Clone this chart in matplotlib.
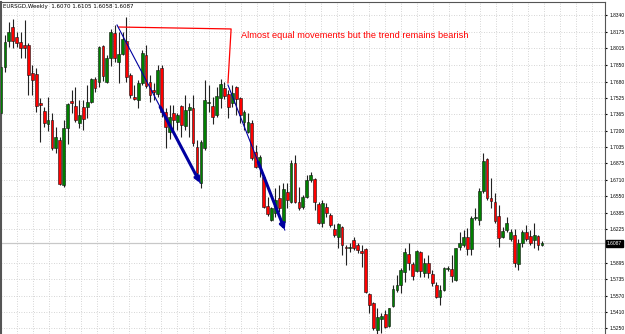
import numpy as np
import matplotlib
matplotlib.use("Agg")
import matplotlib.pyplot as plt

# weekly EURSGD candles
opens = [1.7373, 1.7827, 1.8083, 1.8221, 1.8123, 1.8073, 1.8044, 1.8044, 1.7768, 1.7758,
         1.7471, 1.7392, 1.7264, 1.7304, 1.7027, 1.7106, 1.6662, 1.7225, 1.7491, 1.7442,
         1.7274, 1.7432, 1.7432, 1.7481, 1.7708, 1.7679, 1.8034, 1.7679, 1.7916, 1.8162,
         1.7876, 1.7955, 1.8083, 1.7748, 1.7531, 1.7501, 1.7669, 1.7945, 1.7679, 1.7600,
         1.7560, 1.7817, 1.7383, 1.7185, 1.7373, 1.7284, 1.7442, 1.7244, 1.7402, 1.7422,
         1.7037, 1.6682, 1.7027, 1.7471, 1.7442, 1.7353, 1.7521, 1.7619, 1.7560, 1.7471,
         1.7629, 1.7521, 1.7284, 1.7185, 1.7274, 1.6988, 1.6840, 1.6741, 1.6455, 1.6317,
         1.6386, 1.6534, 1.6297, 1.6593, 1.6494, 1.6879, 1.6494, 1.6445, 1.6544, 1.6711,
         1.6721, 1.6475, 1.6287, 1.6445, 1.6366, 1.6228, 1.6149, 1.6248, 1.6050, 1.6040,
         1.6119, 1.6070, 1.6011, 1.6030, 1.5586, 1.5497, 1.5231, 1.5339, 1.5389, 1.5270,
         1.5468, 1.5626, 1.5675, 1.5804, 1.5981, 1.5882, 1.5814, 1.6001, 1.5794, 1.5892,
         1.5784, 1.5675, 1.5557, 1.5626, 1.5833, 1.5833, 1.5724, 1.6050, 1.6070, 1.6149,
         1.6030, 1.6336, 1.6317, 1.6603, 1.6919, 1.6534, 1.6494, 1.6356, 1.6149, 1.6218,
         1.6129, 1.6169, 1.5882, 1.6090, 1.6198, 1.6159, 1.6119, 1.6159, 1.6070]
highs = [1.7846, 1.8143, 1.8271, 1.8300, 1.8172, 1.8172, 1.8291, 1.8064, 1.7846, 1.7817,
         1.7521, 1.7432, 1.7531, 1.7373, 1.7235, 1.7136, 1.7304, 1.7471, 1.7600, 1.7629,
         1.7501, 1.7501, 1.7649, 1.7718, 1.7728, 1.8034, 1.8044, 1.7945, 1.8202, 1.8241,
         1.8172, 1.8172, 1.8320, 1.7768, 1.7649, 1.7698, 1.7995, 1.8044, 1.7748, 1.7669,
         1.7846, 1.7846, 1.7422, 1.7452, 1.7452, 1.7373, 1.7452, 1.7550, 1.7471, 1.7550,
         1.7106, 1.7106, 1.7698, 1.7649, 1.7531, 1.7629, 1.7708, 1.7679, 1.7600, 1.7649,
         1.7639, 1.7531, 1.7402, 1.7373, 1.7304, 1.7057, 1.6958, 1.6761, 1.6544, 1.6445,
         1.6632, 1.6662, 1.6682, 1.6682, 1.6909, 1.6958, 1.6642, 1.6563, 1.6761, 1.6790,
         1.6731, 1.6494, 1.6514, 1.6484, 1.6386, 1.6277, 1.6287, 1.6257, 1.6070, 1.6090,
         1.6149, 1.6090, 1.6070, 1.6040, 1.5596, 1.5507, 1.5448, 1.5399, 1.5428, 1.5448,
         1.5675, 1.5774, 1.5843, 1.6040, 1.6090, 1.5902, 1.6020, 1.6010, 1.5941, 1.5971,
         1.5823, 1.5705, 1.5675, 1.5853, 1.5863, 1.5971, 1.6040, 1.6198, 1.6218, 1.6238,
         1.6356, 1.6435, 1.6632, 1.6978, 1.6929, 1.6731, 1.6583, 1.6465, 1.6248, 1.6346,
         1.6228, 1.6228, 1.6129, 1.6218, 1.6267, 1.6218, 1.6287, 1.6169, 1.6105]
lows = [1.7353, 1.7777, 1.8024, 1.8014, 1.8024, 1.7916, 1.7916, 1.7550, 1.7550, 1.7383,
        1.7086, 1.7235, 1.7195, 1.7008, 1.6978, 1.6662, 1.6642, 1.7067, 1.7373, 1.7284,
        1.7225, 1.7205, 1.7323, 1.7471, 1.7580, 1.7629, 1.7689, 1.7669, 1.7837, 1.7876,
        1.7669, 1.7945, 1.7679, 1.7521, 1.7501, 1.7422, 1.7649, 1.7619, 1.7481, 1.7501,
        1.7531, 1.7333, 1.7027, 1.7116, 1.7205, 1.7205, 1.7136, 1.7205, 1.7136, 1.7047,
        1.6741, 1.6632, 1.7008, 1.7383, 1.7264, 1.7333, 1.7422, 1.7511, 1.7323, 1.7432,
        1.7353, 1.7274, 1.7205, 1.7175, 1.6909, 1.6830, 1.6741, 1.6435, 1.6356, 1.6307,
        1.6346, 1.6396, 1.6287, 1.6435, 1.6484, 1.6484, 1.6415, 1.6425, 1.6534, 1.6692,
        1.6415, 1.6277, 1.6248, 1.6346, 1.6248, 1.6149, 1.6040, 1.5971, 1.5872, 1.6001,
        1.6020, 1.5991, 1.5853, 1.5596, 1.5399, 1.5231, 1.5192, 1.5201, 1.5251, 1.5261,
        1.5458, 1.5606, 1.5596, 1.5705, 1.5823, 1.5724, 1.5804, 1.5754, 1.5754, 1.5745,
        1.5665, 1.5547, 1.5478, 1.5616, 1.5814, 1.5705, 1.5715, 1.6020, 1.6050, 1.5971,
        1.5971, 1.6317, 1.6267, 1.6583, 1.6514, 1.6435, 1.6287, 1.6050, 1.6139, 1.6198,
        1.6109, 1.5853, 1.5823, 1.6050, 1.6109, 1.6070, 1.6040, 1.6020, 1.6058]
closes = [1.7827, 1.8073, 1.8172, 1.8083, 1.8064, 1.8014, 1.8014, 1.7748, 1.7698, 1.7442,
          1.7452, 1.7274, 1.7304, 1.7027, 1.7136, 1.6672, 1.7225, 1.7461, 1.7471, 1.7304,
          1.7353, 1.7313, 1.7481, 1.7708, 1.7619, 1.8024, 1.7738, 1.7916, 1.8172, 1.7916,
          1.7955, 1.8103, 1.7728, 1.7550, 1.7511, 1.7669, 1.7965, 1.7639, 1.7550, 1.7580,
          1.7797, 1.7383, 1.7235, 1.7333, 1.7304, 1.7353, 1.7254, 1.7402, 1.7432, 1.7077,
          1.6781, 1.7086, 1.7501, 1.7481, 1.7333, 1.7540, 1.7659, 1.7540, 1.7432, 1.7570,
          1.7511, 1.7353, 1.7383, 1.7284, 1.6929, 1.6840, 1.6938, 1.6445, 1.6376, 1.6435,
          1.6514, 1.6435, 1.6623, 1.6514, 1.6879, 1.6494, 1.6435, 1.6544, 1.6711, 1.6761,
          1.6494, 1.6287, 1.6484, 1.6386, 1.6267, 1.6169, 1.6277, 1.6070, 1.6040, 1.6050,
          1.6040, 1.6020, 1.5991, 1.5606, 1.5478, 1.5251, 1.5359, 1.5369, 1.5261, 1.5448,
          1.5636, 1.5675, 1.5823, 1.6001, 1.5892, 1.5764, 1.6011, 1.5814, 1.5892, 1.5794,
          1.5695, 1.5557, 1.5626, 1.5843, 1.5843, 1.5764, 1.6040, 1.6090, 1.6149, 1.6030,
          1.6336, 1.6346, 1.6603, 1.6899, 1.6534, 1.6504, 1.6307, 1.6139, 1.6208, 1.6287,
          1.6198, 1.5892, 1.6090, 1.6198, 1.6129, 1.6090, 1.6169, 1.6070, 1.6087]

price_ticks = [1.8340, 1.8175, 1.8015, 1.7850, 1.7680, 1.7525, 1.7365, 1.7200, 1.7035,
               1.6875, 1.6710, 1.6550, 1.6385, 1.6225, 1.5895, 1.5735, 1.5570, 1.5410, 1.5250]
last_price = 1.6087
title_txt = "EURSGD,Weekly  1.6070 1.6105 1.6058 1.6087"
note_txt = "Almost equal movements but the trend remains bearish"

# hand drawn objects (bar index, price)
note_line_x = [30.1, 58.7, 57.9]
note_line_y = [1.8221, 1.8202, 1.7669]
arrow1_x = [29.6, 40.6, 50.8]
arrow1_y = [1.8241, 1.7432, 1.6682]
arrow2_x = [57.9, 65.6, 72.4]
arrow2_y = [1.7649, 1.6889, 1.6218]

o = np.array(opens); h = np.array(highs); l = np.array(lows); c = np.array(closes)
x = np.arange(len(o))
up = c >= o

fig = plt.figure(figsize=(6.25, 3.34), dpi=100)
ax = fig.add_axes([1 / 625, 0, 604 / 625, 332 / 334])

# grid
ax.set_xticks(np.arange(4.0, 156, 4.08))
ax.set_yticks(price_ticks)
ax.grid(True, color="#c8c8c8", lw=0.6, ls=(0, (1, 2)))
ax.set_axisbelow(True)
ax.axhline(last_price, color="#c8c8c8", lw=0.9, zorder=1)

# candles
ax.vlines(x, l, h, color="#222222", lw=0.8, zorder=2)
body = np.maximum(np.abs(c - o), 0.0004)
bot = np.minimum(o, c)
ax.bar(x[up], body[up], bottom=bot[up], width=0.72, color="#008000",
       edgecolor="#111111", lw=0.4, zorder=3)
ax.bar(x[~up], body[~up], bottom=bot[~up], width=0.72, color="#ff0000",
       edgecolor="#111111", lw=0.4, zorder=3)

# red note
ax.plot(note_line_x, note_line_y, color="#ff0000", lw=0.9, zorder=4)
ax.text(61.2, 1.8133, note_txt, color="#ff0000", fontsize=6.65,
        family="Liberation Sans", va="center", ha="left")

# blue arrows
for ax_x, ax_y in [(arrow1_x, arrow1_y), (arrow2_x, arrow2_y)]:
    ax.plot([ax_x[0], ax_x[2]], [ax_y[0], ax_y[2]], color="#0000a0", lw=0.8, zorder=4)
    ax.annotate("", xy=(ax_x[2], ax_y[2]), xytext=(ax_x[1], ax_y[1]),
                arrowprops=dict(arrowstyle="-|>", color="#0000a0", lw=2.2,
                                mutation_scale=7, shrinkA=0, shrinkB=0), zorder=4)

ax.set_xlim(0, 604 / 3.92)
ax.set_ylim(1.5192, 1.8468)

ax.yaxis.tick_right()
ax.tick_params(axis="y", labelsize=3.5, length=1.5, pad=1.5, colors="black")
ax.tick_params(axis="x", length=0, labelbottom=False)
ax.set_yticklabels(["%.4f" % t for t in price_ticks], family="Liberation Sans")
for s in ["left", "top", "right"]:
    ax.spines[s].set_color("#555555")
ax.spines["left"].set_linewidth(1.5)
ax.spines["bottom"].set_visible(False)

ax.text(0.004, 0.993, title_txt, transform=ax.transAxes, fontsize=4,
        va="top", ha="left", color="black")
ax.annotate("%.4f" % last_price, xy=(1.0, last_price),
            xycoords=("axes fraction", "data"), xytext=(1.5, 0),
            textcoords="offset points", fontsize=3.5, family="Liberation Sans",
            color="white", va="center",
            bbox=dict(boxstyle="square,pad=0.15", fc="black", ec="black"))

fig.savefig("out.png", dpi=100)
